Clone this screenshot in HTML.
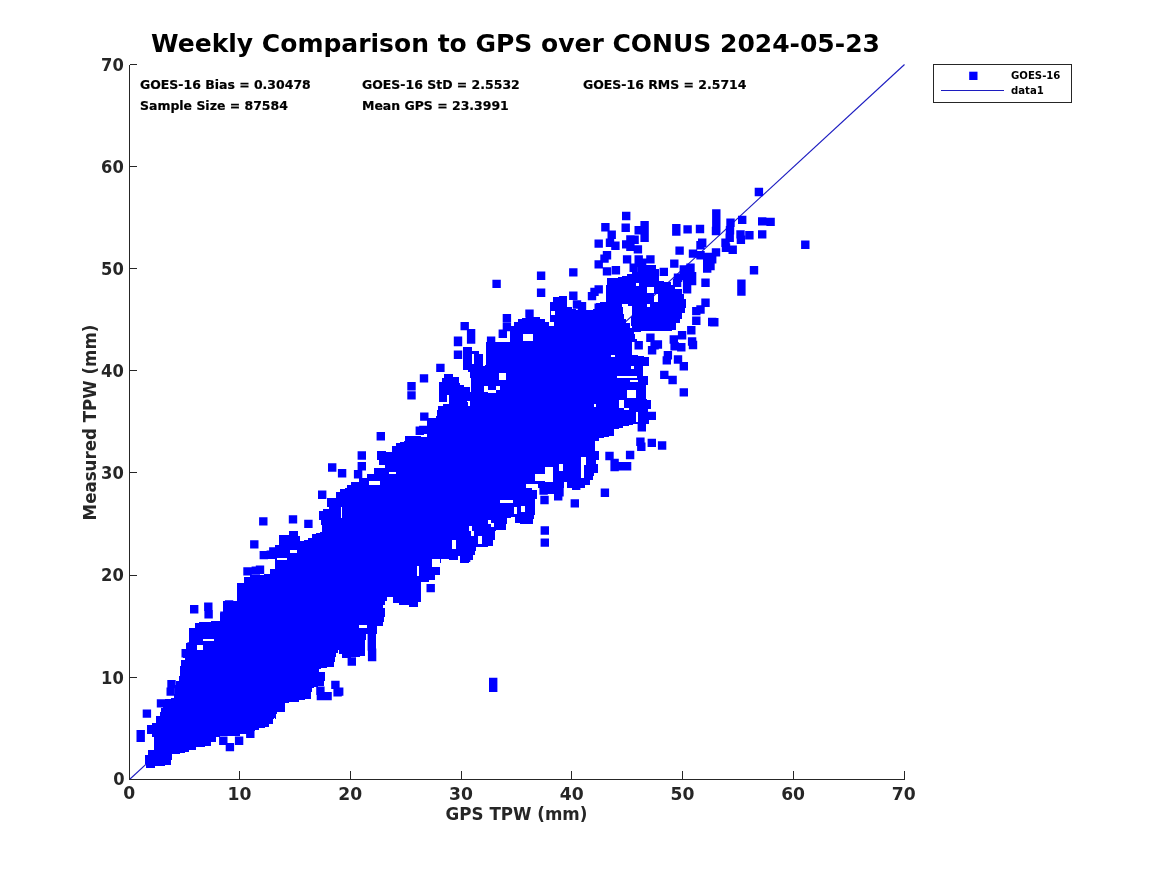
<!DOCTYPE html>
<html lang="en">
<head>
<meta charset="utf-8">
<title>Weekly Comparison to GPS over CONUS 2024-05-23</title>
<style>
html,body{margin:0;padding:0;background:#fff;}
body{width:1167px;height:875px;overflow:hidden;}
svg{display:block;font-family:"DejaVu Sans","Liberation Sans",sans-serif;font-weight:bold;}
.tk{font-size:16.67px;fill:#262626;}
.st{font-size:12.48px;fill:#000;stroke:#000;stroke-width:0.2px;}
.lg{font-size:10.15px;fill:#000;}
.ttl{font-size:25px;fill:#000;}
.ax{stroke:#262626;stroke-width:1;fill:none;shape-rendering:crispEdges;}
.pt{fill:#0000ff;}
</style>
</head>
<body>
<svg width="1167" height="875" viewBox="0 0 1167 875">
<rect x="0" y="0" width="1167" height="875" fill="#ffffff"/>
<line x1="129.5" y1="779.5" x2="904.5" y2="64.5" stroke="#1c1cc0" stroke-width="1.1"/>
<path class="pt" shape-rendering="crispEdges" d="M642 265h14v2h-14zM638 267h18v2h-18zM638 269h21v3h-21zM632 272h27v2h-27zM627 274h32v2h-32zM622 276h37v1h-37zM618 277h41v1h-41zM607 278h52v3h-52zM607 281h57v1h-57zM607 282h64v1h-64zM607 283h29v2h-29zM639 283h32v2h-32zM606 285h30v1h-30zM639 285h36v1h-36zM606 286h69v1h-69zM606 287h41v6h-41zM654 287h21v2h-21zM654 289h28v4h-28zM606 293h76v1h-76zM606 294h48v8h-48zM658 294h26v5h-26zM559 296h8v1h-8zM553 297h14v5h-14zM658 299h28v3h-28zM550 302h17v5h-17zM600 302h86v1h-86zM596 303h90v1h-90zM596 304h26v3h-26zM628 304h19v2h-19zM650 304h36v3h-36zM632 306h15v1h-15zM550 307h22v2h-22zM596 307h27v2h-27zM632 307h54v1h-54zM632 308h53v5h-53zM550 309h26v1h-26zM593 309h30v1h-30zM550 310h73v1h-73zM550 311h1v4h-1zM555 311h68v3h-68zM632 313h50v4h-50zM555 314h69v1h-69zM550 315h74v4h-74zM526 317h14v1h-14zM631 317h51v2h-51zM522 318h18v1h-18zM518 319h27v3h-27zM550 319h76v3h-76zM631 319h49v4h-49zM514 322h35v4h-35zM554 322h72v1h-72zM554 323h76v3h-76zM631 323h45v3h-45zM511 326h119v2h-119zM632 326h44v2h-44zM511 328h165v2h-165zM511 330h161v1h-161zM510 331h131v1h-131zM510 332h124v2h-124zM510 334h13v7h-13zM533 334h102v5h-102zM533 339h104v2h-104zM510 341h127v1h-127zM486 342h146v13h-146zM463 347h9v4h-9zM463 351h16v3h-16zM463 354h9v10h-9zM474 354h9v10h-9zM486 355h125v2h-125zM615 355h23v1h-23zM615 356h29v1h-29zM486 357h163v8h-163zM463 364h20v2h-20zM485 365h164v1h-164zM463 366h168v3h-168zM634 366h9v3h-9zM463 369h180v1h-180zM468 370h175v2h-175zM470 372h173v1h-173zM470 373h29v5h-29zM506 373h137v3h-137zM444 374h9v3h-9zM506 376h111v2h-111zM637 376h11v2h-11zM444 377h15v1h-15zM442 378h17v4h-17zM471 378h28v2h-28zM506 378h142v2h-142zM471 380h159v2h-159zM638 380h10v2h-10zM439 382h20v1h-20zM471 382h177v3h-177zM439 383h21v2h-21zM439 385h25v2h-25zM471 385h175v1h-175zM471 386h13v6h-13zM488 386h8v4h-8zM500 386h146v4h-146zM439 387h31v5h-31zM496 390h131v3h-131zM636 390h10v8h-10zM439 392h49v1h-49zM439 393h188v2h-188zM439 395h8v7h-8zM449 395h178v3h-178zM449 398h197v1h-197zM449 399h198v1h-198zM449 400h170v1h-170zM624 400h27v8h-27zM449 401h18v1h-18zM470 401h149v3h-149zM449 402h19v2h-19zM443 404h25v2h-25zM470 404h124v2h-124zM596 404h23v3h-23zM438 406h156v1h-156zM438 407h181v1h-181zM438 408h186v2h-186zM629 408h22v1h-22zM629 409h19v1h-19zM437 410h211v2h-211zM437 412h199v4h-199zM638 412h10v3h-10zM638 415h11v7h-11zM436 416h200v2h-200zM427 418h209v4h-209zM427 422h222v2h-222zM427 424h206v1h-206zM427 425h202v1h-202zM427 426h196v2h-196zM427 428h192v1h-192zM427 429h187v7h-187zM405 436h16v1h-16zM427 436h182v1h-182zM405 437h199v1h-199zM405 438h194v3h-194zM404 441h191v1h-191zM400 442h195v1h-195zM396 443h199v3h-199zM392 446h203v5h-203zM377 451h9v1h-9zM392 451h207v1h-207zM377 452h222v5h-222zM377 457h204v3h-204zM586 457h13v3h-13zM379 460h202v4h-202zM586 460h10v4h-10zM379 464h180v1h-180zM563 464h18v7h-18zM586 464h12v1h-12zM385 465h174v2h-174zM584 465h14v8h-14zM385 467h160v1h-160zM553 467h6v4h-6zM374 468h171v4h-171zM553 471h28v7h-28zM374 472h15v2h-15zM396 472h149v2h-149zM584 473h10v3h-10zM367 474h168v4h-168zM584 476h9v2h-9zM359 478h176v3h-176zM553 478h40v2h-40zM553 480h37v2h-37zM359 481h10v1h-10zM380 481h165v1h-165zM351 482h18v3h-18zM380 482h184v2h-184zM567 482h23v3h-23zM380 484h146v1h-146zM538 484h26v4h-26zM347 485h179v3h-179zM567 485h18v3h-18zM345 488h187v1h-187zM340 489h192v1h-192zM340 490h197v2h-197zM336 492h201v6h-201zM327 498h210v1h-210zM327 499h208v1h-208zM327 500h173v3h-173zM513 500h22v3h-22zM327 503h208v3h-208zM327 506h194v1h-194zM525 506h10v6h-10zM329 507h12v2h-12zM342 507h172v7h-172zM517 507h4v5h-4zM323 509h18v2h-18zM319 511h22v7h-22zM517 512h18v2h-18zM342 514h193v1h-193zM342 515h192v2h-192zM342 517h169v1h-169zM515 517h19v2h-19zM319 518h188v2h-188zM515 519h18v4h-18zM321 520h167v4h-167zM491 520h16v3h-16zM494 523h13v1h-13zM520 523h13v1h-13zM321 524h170v1h-170zM494 524h12v3h-12zM322 525h169v1h-169zM322 526h147v5h-147zM472 526h19v1h-19zM472 527h34v3h-34zM472 530h24v1h-24zM289 531h9v4h-9zM322 531h149v1h-149zM474 531h21v5h-21zM320 532h151v1h-151zM316 533h155v1h-155zM312 534h159v2h-159zM279 535h19v1h-19zM279 536h21v5h-21zM312 536h166v2h-166zM482 536h13v4h-13zM308 538h170v2h-170zM304 540h148v1h-148zM456 540h22v4h-22zM482 540h11v4h-11zM279 541h173v4h-173zM456 544h37v2h-37zM275 545h177v4h-177zM456 546h32v1h-32zM456 547h20v2h-20zM275 549h201v1h-201zM275 550h15v3h-15zM297 550h179v1h-179zM297 551h178v2h-178zM275 553h200v2h-200zM275 555h198v1h-198zM275 556h183v2h-183zM460 556h13v4h-13zM275 558h2v2h-2zM287 558h171v1h-171zM287 559h145v1h-145zM440 559h1v4h-1zM449 559h9v1h-9zM275 560h157v6h-157zM460 560h9v3h-9zM275 566h142v3h-142zM419 566h13v1h-13zM419 567h21v8h-21zM270 569h147v5h-147zM264 574h153v1h-153zM250 575h167v1h-167zM419 575h16v1h-16zM250 576h185v1h-185zM244 577h191v3h-191zM244 580h185v2h-185zM244 582h177v1h-177zM237 583h184v14h-184zM237 597h150v4h-150zM393 597h28v5h-28zM223 601h162v4h-162zM393 602h25v1h-25zM399 603h19v2h-19zM223 605h160v3h-160zM409 605h9v2h-9zM223 608h162v5h-162zM220 613h165v4h-165zM220 617h164v4h-164zM211 621h173v1h-173zM199 622h184v1h-184zM195 623h188v2h-188zM195 625h164v3h-164zM367 625h16v1h-16zM367 626h10v2h-10zM189 628h188v6h-188zM189 634h177v5h-177zM189 639h14v2h-14zM214 639h152v1h-152zM214 640h151v1h-151zM189 641h176v2h-176zM186 643h179v2h-179zM186 645h11v4h-11zM203 645h162v5h-162zM183 649h14v1h-14zM183 650h155v3h-155zM339 650h26v4h-26zM183 653h153v4h-153zM342 654h23v2h-23zM342 656h18v1h-18zM183 657h152v1h-152zM342 657h9v1h-9zM185 658h150v2h-150zM181 660h154v2h-154zM181 662h153v4h-153zM180 666h154v1h-154zM180 667h147v1h-147zM180 668h141v1h-141zM180 669h139v3h-139zM180 672h145v4h-145zM179 676h146v5h-146zM176 681h148v4h-148zM175 685h149v1h-149zM175 686h143v1h-143zM175 687h139v1h-139zM175 688h137v4h-137zM175 692h136v2h-136zM174 694h137v4h-137zM171 698h140v1h-140zM165 699h140v1h-140zM165 700h134v2h-134zM165 702h124v1h-124zM163 703h122v5h-122zM161 708h124v4h-124zM160 712h117v2h-117zM160 714h116v2h-116zM156 716h120v2h-120zM156 718h118v1h-118zM275 718h1v1h-1zM156 719h117v4h-117zM152 723h121v1h-121zM152 724h117v1h-117zM147 725h122v2h-122zM147 727h118v1h-118zM147 728h112v2h-112zM147 730h108v1h-108zM147 731h100v3h-100zM152 734h88v2h-88zM152 736h68v1h-68zM154 737h62v5h-62zM154 742h57v4h-57zM154 746h51v1h-51zM154 747h42v3h-42zM148 750h41v2h-41zM148 752h37v1h-37zM148 753h32v1h-32zM148 754h24v1h-24zM145 755h27v5h-27zM145 760h26v4h-26zM146 764h25v1h-25zM146 765h19v1h-19zM146 766h9v2h-9z"/>
<path class="pt" d="M754.7 187.8h8.4v8.4h-8.4zM136.5 729.9h8.4v8.4h-8.4zM136.5 733.6h8.4v8.4h-8.4zM142.7 709.4h8.4v8.4h-8.4zM156.8 699.2h8.4v8.4h-8.4zM167.3 679.9h8.4v8.4h-8.4zM166.5 687.4h8.4v8.4h-8.4zM219.1 736.6h8.4v8.4h-8.4zM225.7 742.9h8.4v8.4h-8.4zM234.9 736.6h8.4v8.4h-8.4zM246.1 729.6h8.4v8.4h-8.4zM181.5 649h8.4v8.4h-8.4zM187.4 642.3h8.4v8.4h-8.4zM316.2 686.5h8.4v8.4h-8.4zM316.7 691.9h8.4v8.4h-8.4zM323.4 691.9h8.4v8.4h-8.4zM331.2 680.7h8.4v8.4h-8.4zM335 687.4h8.4v8.4h-8.4zM333.4 688.2h8.4v8.4h-8.4zM347.6 657.3h8.4v8.4h-8.4zM367.6 634h8.4v8.4h-8.4zM367.6 642.3h8.4v8.4h-8.4zM367.9 648.5h8.4v8.4h-8.4zM367.9 652.8h8.4v8.4h-8.4zM259.1 517.2h8.4v8.4h-8.4zM250.1 540.2h8.4v8.4h-8.4zM259.6 550.9h8.4v8.4h-8.4zM266.6 550.5h8.4v8.4h-8.4zM269.1 547.2h8.4v8.4h-8.4zM243.3 567.2h8.4v8.4h-8.4zM251.6 566.4h8.4v8.4h-8.4zM255.8 565.6h8.4v8.4h-8.4zM190 605.1h8.4v8.4h-8.4zM204.1 602.6h8.4v8.4h-8.4zM204.4 610.1h8.4v8.4h-8.4zM224.9 600.3h8.4v8.4h-8.4zM227.9 602.6h8.4v8.4h-8.4zM220.2 611.4h8.4v8.4h-8.4zM288.8 515.2h8.4v8.4h-8.4zM304.2 519.7h8.4v8.4h-8.4zM318 490.5h8.4v8.4h-8.4zM426.5 583.9h8.4v8.4h-8.4zM540.3 495.8h8.4v8.4h-8.4zM540.6 526.3h8.4v8.4h-8.4zM540.6 538.4h8.4v8.4h-8.4zM539.4 486.3h8.4v8.4h-8.4zM546.9 485.5h8.4v8.4h-8.4zM555.3 488h8.4v8.4h-8.4zM554 492.1h8.4v8.4h-8.4zM461.9 553.5h8.4v8.4h-8.4zM447.7 549.7h8.4v8.4h-8.4zM407.3 382h8.4v8.4h-8.4zM407.3 391.2h8.4v8.4h-8.4zM376.6 432.1h8.4v8.4h-8.4zM357.6 451.3h8.4v8.4h-8.4zM357.6 462.1h8.4v8.4h-8.4zM353.9 470h8.4v8.4h-8.4zM328 463.3h8.4v8.4h-8.4zM337.9 469.1h8.4v8.4h-8.4zM415.6 426.6h8.4v8.4h-8.4zM453.8 337.8h8.4v8.4h-8.4zM453.8 350.6h8.4v8.4h-8.4zM436.2 363.7h8.4v8.4h-8.4zM419.8 374.2h8.4v8.4h-8.4zM420.1 412.4h8.4v8.4h-8.4zM419.1 425.7h8.4v8.4h-8.4zM634.5 341.1h8.4v8.4h-8.4zM650.4 341.1h8.4v8.4h-8.4zM647.9 346.1h8.4v8.4h-8.4zM653.7 340.3h8.4v8.4h-8.4zM670.4 342h8.4v8.4h-8.4zM677.1 343.1h8.4v8.4h-8.4zM688.8 340.8h8.4v8.4h-8.4zM663.7 351.1h8.4v8.4h-8.4zM662.6 356.2h8.4v8.4h-8.4zM673.8 355.3h8.4v8.4h-8.4zM679.6 362h8.4v8.4h-8.4zM660.1 370.7h8.4v8.4h-8.4zM668.4 375.8h8.4v8.4h-8.4zM679.6 388.2h8.4v8.4h-8.4zM647.6 411.7h8.4v8.4h-8.4zM637.6 423.2h8.4v8.4h-8.4zM636.2 437.6h8.4v8.4h-8.4zM637.1 442.6h8.4v8.4h-8.4zM647.6 438.7h8.4v8.4h-8.4zM657.9 441.3h8.4v8.4h-8.4zM625.9 450.8h8.4v8.4h-8.4zM605.3 451.8h8.4v8.4h-8.4zM610.4 458.8h8.4v8.4h-8.4zM610.4 462.9h8.4v8.4h-8.4zM618.7 462.1h8.4v8.4h-8.4zM622.9 462.1h8.4v8.4h-8.4zM536.9 271.6h8.4v8.4h-8.4zM492.4 279.7h8.4v8.4h-8.4zM536.9 288.6h8.4v8.4h-8.4zM525.3 309.4h8.4v8.4h-8.4zM502.7 314.1h8.4v8.4h-8.4zM460.5 321.9h8.4v8.4h-8.4zM466.9 329h8.4v8.4h-8.4zM453.8 336.6h8.4v8.4h-8.4zM486.9 336.6h8.4v8.4h-8.4zM498.6 329.5h8.4v8.4h-8.4zM502.7 322.8h8.4v8.4h-8.4zM466.9 335.3h8.4v8.4h-8.4zM622 211.8h8.4v8.4h-8.4zM601.2 223h8.4v8.4h-8.4zM621.5 223.5h8.4v8.4h-8.4zM640.4 221h8.4v8.4h-8.4zM634.5 226h8.4v8.4h-8.4zM672.1 224h8.4v8.4h-8.4zM672.1 227.3h8.4v8.4h-8.4zM683.4 225.2h8.4v8.4h-8.4zM695.8 224.8h8.4v8.4h-8.4zM607.5 230.5h8.4v8.4h-8.4zM640.4 229.3h8.4v8.4h-8.4zM640.4 233.5h8.4v8.4h-8.4zM626.2 235.2h8.4v8.4h-8.4zM630.4 235.5h8.4v8.4h-8.4zM594.5 239.4h8.4v8.4h-8.4zM605.8 238.5h8.4v8.4h-8.4zM611.2 241.5h8.4v8.4h-8.4zM622 240.2h8.4v8.4h-8.4zM626.2 242.7h8.4v8.4h-8.4zM633.7 245.2h8.4v8.4h-8.4zM698 238.5h8.4v8.4h-8.4zM696.3 241h8.4v8.4h-8.4zM675.4 246.4h8.4v8.4h-8.4zM602.8 251h8.4v8.4h-8.4zM600.3 254.4h8.4v8.4h-8.4zM688.8 249.4h8.4v8.4h-8.4zM696.3 251h8.4v8.4h-8.4zM704.6 252.7h8.4v8.4h-8.4zM594.5 260.2h8.4v8.4h-8.4zM622.9 255.2h8.4v8.4h-8.4zM634.5 255.2h8.4v8.4h-8.4zM646.2 255.2h8.4v8.4h-8.4zM637.9 258.5h8.4v8.4h-8.4zM670.1 259.4h8.4v8.4h-8.4zM703 258.5h8.4v8.4h-8.4zM706.3 261.9h8.4v8.4h-8.4zM569.1 268.2h8.4v8.4h-8.4zM602.8 267.2h8.4v8.4h-8.4zM611.7 266.1h8.4v8.4h-8.4zM629.5 263.5h8.4v8.4h-8.4zM647.1 265.2h8.4v8.4h-8.4zM659.6 267.7h8.4v8.4h-8.4zM679.6 265.2h8.4v8.4h-8.4zM686.3 263.5h8.4v8.4h-8.4zM703 264.4h8.4v8.4h-8.4zM701.3 278.6h8.4v8.4h-8.4zM673.8 273.6h8.4v8.4h-8.4zM679.6 271.9h8.4v8.4h-8.4zM687.9 271.9h8.4v8.4h-8.4zM672.9 278.6h8.4v8.4h-8.4zM682.9 280.2h8.4v8.4h-8.4zM687.9 276.9h8.4v8.4h-8.4zM682.9 285.2h8.4v8.4h-8.4zM569.1 291.6h8.4v8.4h-8.4zM590.3 287.7h8.4v8.4h-8.4zM587.8 291.9h8.4v8.4h-8.4zM594.5 285.2h8.4v8.4h-8.4zM701.3 298.6h8.4v8.4h-8.4zM696.3 305.3h8.4v8.4h-8.4zM692.1 306.9h8.4v8.4h-8.4zM572.8 300.3h8.4v8.4h-8.4zM577.8 301.9h8.4v8.4h-8.4zM594.5 303.6h8.4v8.4h-8.4zM692.1 316.6h8.4v8.4h-8.4zM708 317.8h8.4v8.4h-8.4zM687.1 326.1h8.4v8.4h-8.4zM677.9 331.1h8.4v8.4h-8.4zM646.2 333.6h8.4v8.4h-8.4zM669.6 335.3h8.4v8.4h-8.4zM687.9 337.3h8.4v8.4h-8.4zM712.1 209.3h8.4v8.4h-8.4zM712.1 216.8h8.4v8.4h-8.4zM712.1 224.3h8.4v8.4h-8.4zM711.8 226.8h8.4v8.4h-8.4zM726.3 218.5h8.4v8.4h-8.4zM725.8 226h8.4v8.4h-8.4zM725.5 233.5h8.4v8.4h-8.4zM721.3 238.5h8.4v8.4h-8.4zM721.8 243.5h8.4v8.4h-8.4zM728.5 245.5h8.4v8.4h-8.4zM738 215.7h8.4v8.4h-8.4zM758 217.2h8.4v8.4h-8.4zM766.4 217.7h8.4v8.4h-8.4zM736.3 230.2h8.4v8.4h-8.4zM736.7 235.5h8.4v8.4h-8.4zM745.2 231h8.4v8.4h-8.4zM758 230.2h8.4v8.4h-8.4zM801.1 240.5h8.4v8.4h-8.4zM711.8 248.2h8.4v8.4h-8.4zM749.8 266.1h8.4v8.4h-8.4zM737.2 279.4h8.4v8.4h-8.4zM737.2 287.4h8.4v8.4h-8.4zM710.1 318.1h8.4v8.4h-8.4zM708 255.2h8.4v8.4h-8.4zM570.6 499.2h8.4v8.4h-8.4zM600.7 488.5h8.4v8.4h-8.4zM572 481.6h8.4v8.4h-8.4zM489 677.7h8.4v8.4h-8.4zM489 683.7h8.4v8.4h-8.4z"/>
<g class="ax">
<path d="M129.5 64.5V779.5H904.5"/>
<path d="M129.5 779.5v-8.5"/><path d="M129.5 779.5h7.5"/>
<path d="M239.5 779.5v-8.5"/><path d="M129.5 677.5h7.5"/>
<path d="M350.5 779.5v-8.5"/><path d="M129.5 575.5h7.5"/>
<path d="M461.5 779.5v-8.5"/><path d="M129.5 472.5h7.5"/>
<path d="M571.5 779.5v-8.5"/><path d="M129.5 370.5h7.5"/>
<path d="M682.5 779.5v-8.5"/><path d="M129.5 268.5h7.5"/>
<path d="M793.5 779.5v-8.5"/><path d="M129.5 166.5h7.5"/>
<path d="M904.5 779.5v-8.5"/><path d="M129.5 64.5h7.5"/>
</g>
<g class="tk" text-anchor="middle">
<text transform="translate(129.1 798.9) scale(1.03 1.04)">0</text><text transform="translate(239.5 799.5) scale(1.03 1.04)">10</text><text transform="translate(350.2 799.5) scale(1.03 1.04)">20</text><text transform="translate(460.9 799.5) scale(1.03 1.04)">30</text><text transform="translate(571.7 799.5) scale(1.03 1.04)">40</text><text transform="translate(682.4 799.5) scale(1.03 1.04)">50</text><text transform="translate(793.1 799.5) scale(1.03 1.04)">60</text><text transform="translate(903.8 799.5) scale(1.03 1.04)">70</text>
</g>
<g class="tk" text-anchor="end">
<text transform="translate(124.6 784.9) scale(0.98 1.06)">0</text><text transform="translate(123.8 683.6) scale(0.98 1.06)">10</text><text transform="translate(123.8 581.4) scale(0.98 1.06)">20</text><text transform="translate(123.8 479.3) scale(0.98 1.06)">30</text><text transform="translate(123.8 377.1) scale(0.98 1.06)">40</text><text transform="translate(123.8 275.0) scale(0.98 1.06)">50</text><text transform="translate(123.8 172.8) scale(0.98 1.06)">60</text><text transform="translate(123.8 70.7) scale(0.98 1.06)">70</text>
</g>
<text class="tk" text-anchor="middle" transform="translate(516.5 820.4) scale(1.003 1.04)">GPS TPW (mm)</text>
<text class="tk" x="0" y="0" text-anchor="middle" transform="translate(96 422.5) rotate(-90) scale(1.0 1.04)">Measured TPW (mm)</text>
<text class="ttl" text-anchor="middle" x="515.5" y="52.3">Weekly Comparison to GPS over CONUS 2024-05-23</text>
<g class="st">
<text x="140" y="89">GOES-16 Bias = 0.30478</text>
<text x="362" y="89">GOES-16 StD = 2.5532</text>
<text x="583" y="89">GOES-16 RMS = 2.5714</text>
<text x="140" y="110">Sample Size = 87584</text>
<text x="362" y="110">Mean GPS = 23.3991</text>
</g>
<g>
<rect x="933.5" y="64.5" width="138" height="38" fill="#fff" stroke="#262626" stroke-width="1" shape-rendering="crispEdges"/>
<rect x="969.2" y="71.7" width="8.3" height="8.3" fill="#0000ff"/>
<line x1="941" y1="90.5" x2="1004" y2="90.5" stroke="#1c1cc0" stroke-width="1"/>
<text class="lg" x="1011" y="79">GOES-16</text>
<text class="lg" x="1011" y="94">data1</text>
</g>
</svg>
</body>
</html>
